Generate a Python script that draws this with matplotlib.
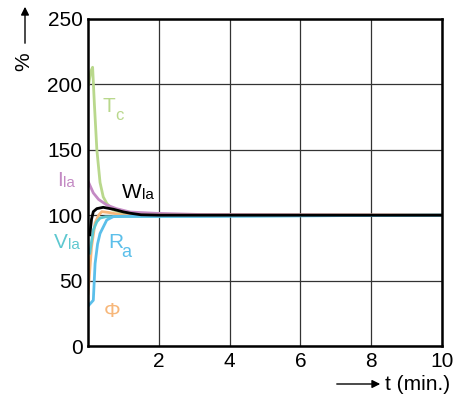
import matplotlib.pyplot as plt
from matplotlib.offsetbox import HPacker, TextArea, AnnotationBbox

plt.rcParams["font.family"] = ["Liberation Sans", "DejaVu Sans"]

x_ticks = [2, 4, 6, 8, 10]
y_ticks = [0, 50, 100, 150, 200, 250]

# curves: time (min.) and percent
tc_t = [0.02, 0.08, 0.13, 0.18, 0.25, 0.34, 0.43, 0.53, 0.71, 1.0, 1.5, 10]
tc_v = [200, 210, 213, 185, 150, 125, 114, 109, 104, 101.5, 100.3, 100]

ila_t = [0.0, 0.15, 0.3, 0.53, 0.8, 1.19, 1.94, 3.2, 10]
ila_v = [126, 117, 112, 107.8, 105, 102.4, 101.4, 100.5, 100]

wla_t = [0.05, 0.1, 0.15, 0.25, 0.43, 0.72, 1.0, 1.19, 1.5, 2.0, 10]
wla_v = [85, 97, 102.7, 105, 106, 104.5, 102.5, 101.5, 100.3, 100, 100]

phi_t = [0.0, 0.1, 0.2, 0.3, 0.39, 0.6, 1.0, 10]
phi_v = [40, 76, 94, 100, 102.7, 102, 100, 100]

vla_t = [0.05, 0.15, 0.25, 0.34, 0.5, 1.0, 3.0, 10]
vla_v = [71, 88.7, 95, 97.8, 98.8, 99, 99.2, 100]

ra_t = [0.0, 0.15, 0.2, 0.27, 0.34, 0.53, 0.72, 1.0, 3.2, 10]
ra_v = [30.5, 35, 63, 78, 86, 96.3, 99, 99.2, 99.2, 100]

GREEN = "#b9d88c"
PURPLE = "#c48ac4"
ORANGE = "#f7b77a"
TEAL = "#5ec8d0"
BLUE = "#5bbfea"

fig = plt.figure(figsize=(4.56, 4.01), dpi=100)
ax = fig.add_axes([0.193, 0.137, 0.776, 0.816])

ax.plot(tc_t, tc_v, color=GREEN, lw=2)
ax.plot(ila_t, ila_v, color=PURPLE, lw=2)
ax.plot(phi_t, phi_v, color=ORANGE, lw=2)
ax.plot(vla_t, vla_v, color=TEAL, lw=2)
ax.plot(ra_t, ra_v, color=BLUE, lw=2)
ax.plot(wla_t, wla_v, color="black", lw=2)

ax.set_xlim(0, 10)
ax.set_ylim(0, 250)
ax.set_xticks(x_ticks)
ax.set_yticks(y_ticks)
ax.tick_params(length=0, labelsize=15, pad=4)
ax.grid(True, color="#333333", lw=0.9)
ax.set_axisbelow(True)
for s in ax.spines.values():
    s.set_linewidth(1.8)


def label(x, y, main, small, color, bg=None):
    parts = [TextArea(main, textprops=dict(color=color, fontsize=15))]
    if small:
        parts.append(TextArea(small, textprops=dict(color=color, fontsize=11)))
    box = HPacker(children=parts, align="bottom", pad=0, sep=0)
    ab = AnnotationBbox(box, (x, y), xycoords="data", box_alignment=(0, 0),
                        frameon=bg is not None, pad=0.1,
                        bboxprops=dict(facecolor="white", edgecolor="none"),
                        annotation_clip=False)
    ax.add_artist(ab)


label(0.42, 176, "T", None, GREEN)
ax.text(0.77, 173, "c", color=GREEN, fontsize=12)
label(-0.88, 119, "I", "la", PURPLE)
label(0.96, 110, "W", "la", "black", bg=True)
label(-0.95, 72, "V", "la", TEAL)
label(0.56, 72, "R", None, BLUE)
ax.text(0.93, 68, "a", color=BLUE, fontsize=13)
ax.text(0.45, 22, "Φ", color=ORANGE, fontsize=15)

# axis names with arrows
fig.text(24 / 456, 1 - 62 / 401, "%", rotation=90, fontsize=15,
         ha="center", va="center")
fig.add_artist(plt.Annotation("", xy=(25 / 456, 1 - 4 / 401),
                              xytext=(25 / 456, 1 - 46 / 401),
                              xycoords="figure fraction",
                              arrowprops=dict(arrowstyle="-|>", color="black",
                                              lw=1, mutation_scale=12)))
fig.add_artist(plt.Annotation("", xy=(383 / 456, 1 - 384 / 401),
                              xytext=(334 / 456, 1 - 384 / 401),
                              xycoords="figure fraction",
                              arrowprops=dict(arrowstyle="-|>", color="black",
                                              lw=1, mutation_scale=12)))
fig.text(385 / 456, 1 - 384 / 401, "t (min.)", fontsize=15, va="center")

fig.savefig("out.png", dpi=100)
